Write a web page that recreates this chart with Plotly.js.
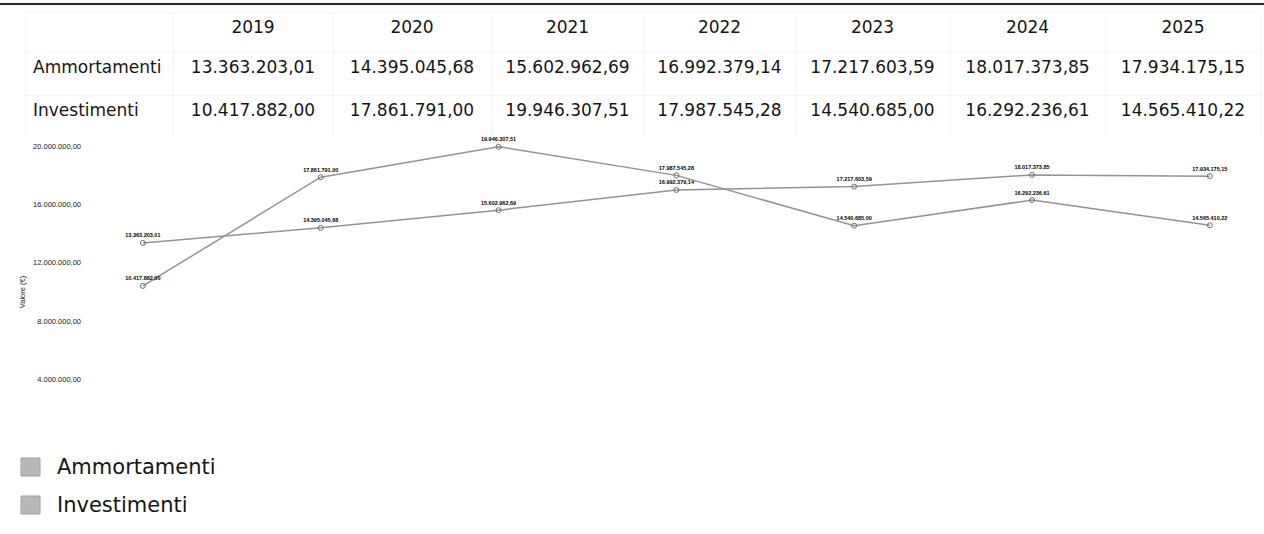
<!DOCTYPE html>
<html>
<head>
<meta charset="utf-8">
<script src="https://cdn.plot.ly/plotly-3.0.1.min.js"></script>
<style>
  html, body { margin: 0; padding: 0; background: #fff; }
  #chart { width: 1264px; height: 534px; }
</style>
</head>
<body>
<div id="chart"></div>
<script>
// Anni e serie
const years = ["2019", "2020", "2021", "2022", "2023", "2024", "2025"];
const seriesNames = ["Ammortamenti", "Investimenti"];
const ammortamenti = [13363203.01, 14395045.68, 15602962.69, 16992379.14, 17217603.59, 18017373.85, 17934175.15];
const investimenti = [10417882.00, 17861791.00, 19946307.51, 17987545.28, 14540685.00, 16292236.61, 14565410.22];
const yTicks = [4000000, 8000000, 12000000, 16000000, 20000000];

const W = 1264, H = 534;
const px = x => x / W;          // pixel -> paper x
const py = y => 1 - y / H;      // pixel -> paper y

// Italian number format: 1.234.567,89
function fmt(n) {
  const [intPart, dec] = n.toFixed(2).split(".");
  return intPart.replace(/\B(?=(\d{3})+(?!\d))/g, ".") + "," + dec;
}

const textColor = "#151515";
const lineColor = "#939393";
const tableFont = "DejaVu Sans";

// Riepilogo tabellare in testa
const series = [ammortamenti, investimenti];
const tableColumns = [seriesNames].concat(
  years.map((_, i) => series.map(s => fmt(s[i])))
);

const table = {
  type: "table",
  domain: { x: [px(25), px(1261)], y: [py(138), py(12)] },
  columnwidth: [148, 160, 158, 153, 151, 155, 155, 156],
  header: {
    values: [""].concat(years),
    align: ["left"].concat(years.map(() => "center")),
    height: 40,
    font: { family: tableFont, size: 17, color: textColor },
    line: { color: "#f3f3f3", width: 1 },
    fill: { color: "#ffffff" }
  },
  cells: {
    values: tableColumns,
    align: ["left"].concat(years.map(() => "center")),
    height: 43,
    font: { family: tableFont, size: 17, color: textColor },
    line: { color: "#f3f3f3", width: 1 },
    fill: { color: "#ffffff" }
  }
};

function lineTrace(name, values) {
  return {
    type: "scatter",
    mode: "lines+markers+text",
    name: name,
    x: years,
    y: values,
    line: { color: lineColor, width: 1.5 },
    marker: { symbol: "circle-open", size: 5, color: "#6f6f6f", line: { width: 1 } },
    texttemplate: "<b>%{y:,.2f}</b>",
    textposition: "top center",
    textfont: { family: "Liberation Sans", size: 5.5, color: "#000" },
    cliponaxis: false,
    showlegend: false,
    hoverinfo: "skip"
  };
}

const traces = [
  table,
  lineTrace(seriesNames[0], ammortamenti),
  lineTrace(seriesNames[1], investimenti)
];

// Legenda a quadratini
const legendShapes = seriesNames.map((_, i) => ({
  type: "rect", xref: "paper", yref: "paper",
  x0: px(21), x1: px(40),
  y0: py(476 + i * 38), y1: py(458 + i * 38),
  fillcolor: "#b8b8b8", line: { color: "#a0a0a0", width: 1 }
}));
const legendLabels = seriesNames.map((name, i) => ({
  xref: "paper", yref: "paper",
  x: px(55), y: py(467 + i * 38),
  xanchor: "left", yanchor: "middle",
  text: name, showarrow: false,
  font: { family: tableFont, size: 21, color: textColor }
}));

const layout = {
  width: W, height: H,
  margin: { l: 0, r: 0, t: 0, b: 0 },
  paper_bgcolor: "#fff",
  plot_bgcolor: "#fff",
  separators: ",.",
  font: { family: "Open Sans", color: textColor },
  showlegend: false,
  xaxis: {
    type: "category",
    domain: [px(86), px(1250)],
    range: [-0.32, 6.226],
    showticklabels: false,
    showgrid: false, zeroline: false, showline: false, ticks: ""
  },
  yaxis: {
    domain: [py(444), py(140)],
    range: [-410000, 20410000],
    tickvals: yTicks,
    tickformat: ",.2f",
    tickfont: { family: "Liberation Sans", size: 7.5, color: textColor },
    showgrid: false, zeroline: false, showline: false, ticks: "",
    ticklabelstandoff: 4,
    title: { text: "Valore (€)", font: { family: "Liberation Sans", size: 7.5, color: textColor }, standoff: 6 }
  },
  shapes: [
    { type: "line", xref: "paper", yref: "paper", x0: 0, x1: 1, y0: py(4), y1: py(4),
      line: { color: "#2a2a2a", width: 2 } }
  ].concat(legendShapes),
  annotations: legendLabels
};

Plotly.newPlot("chart", traces, layout, { displayModeBar: false, staticPlot: true });
</script>
</body>
</html>
